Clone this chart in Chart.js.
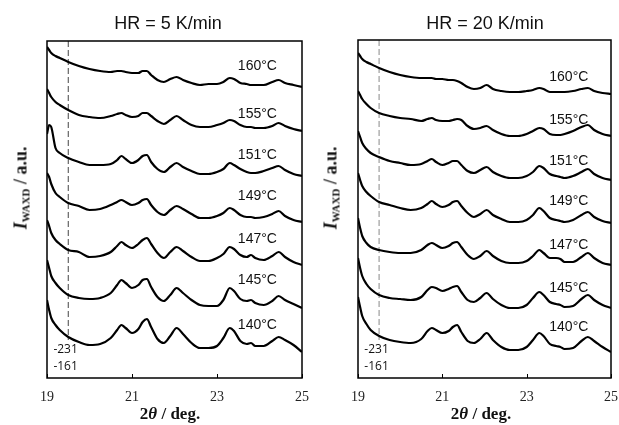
<!DOCTYPE html>
<html><head><meta charset="utf-8">
<script src="https://cdn.jsdelivr.net/npm/chart.js@4.4.1/dist/chart.umd.min.js"></script>
<style>
html,body{margin:0;padding:0;background:#fff;width:619px;height:425px;overflow:hidden;position:relative}
canvas{position:absolute;top:0}
#cL{left:0}
#cR{left:309px}
.t{position:absolute;transform:translate(-50%,-50%);white-space:nowrap;color:#111}
.title{font:18px "Liberation Sans",Arial,sans-serif}
.xl{font:bold 17px "Liberation Serif","Times New Roman",serif}
.yl{font:bold 18px "Liberation Serif","Times New Roman",serif;transform:translate(-50%,-50%) rotate(-90deg)}
.yl sub{font-size:11px;vertical-align:-3px}
</style></head><body>
<canvas id="cL" width="309" height="425"></canvas>
<canvas id="cR" width="310" height="425"></canvas>
<div class="t title" style="left:168px;top:23px">HR = 5 K/min</div>
<div class="t title" style="left:485px;top:23px">HR = 20 K/min</div>
<div class="t yl" style="left:21px;top:188px"><i>I</i><sub>WAXD</sub> / a.u.</div>
<div class="t yl" style="left:331px;top:188px"><i>I</i><sub>WAXD</sub> / a.u.</div>
<div class="t xl" style="left:170px;top:414px">2<i>θ</i> / deg.</div>
<div class="t xl" style="left:481px;top:414px">2<i>θ</i> / deg.</div>
<script>
// 2θ positions (deg) shared by every curve
const angles = [19.0,19.05,19.1,19.2,19.3,19.5,19.75,20.0,20.25,20.5,20.65,20.75,20.85,21.0,21.15,21.25,21.35,21.45,21.6,21.75,21.9,22.05,22.2,22.4,22.6,22.8,23.0,23.15,23.3,23.4,23.55,23.7,23.8,23.9,24.1,24.3,24.45,24.6,24.8,25.0];
const temps = ['160°C','155°C','151°C','149°C','147°C','145°C','140°C'];
const xTicks = [19,21,23,25];
const hklLabels = ['-231','-161'];
const markerAngle = 19.5;

// HR = 5 K/min (stacked intensities, a.u.)
const hr5_160 = [331,328,325,322,320,316,312,309,307,306,307,307,306,305,305,307,307,303,298,296,299,301,298,295,293,294,294,296,300,299,295,294,293,293,293,296,298,295,293,291];
const hr5_155 = [289,285,281,276,273,268,263,261,260,262,264,265,263,261,262,265,265,262,257,254,258,262,258,253,251,251,253,255,258,257,253,251,251,250,250,252,255,252,249,247];
const hr5_151 = [244,253,251,230,225,220,216,213,213,214,218,222,219,215,218,222,223,216,209,206,211,215,211,207,204,204,206,209,215,213,209,206,205,205,207,210,212,208,204,202];
const hr5_149 = [205,201,194,185,181,175,172,168,169,173,176,178,176,173,175,178,179,173,166,163,168,172,169,164,160,160,162,165,170,168,163,161,161,160,161,164,167,162,158,156];
const hr5_147 = [158,152,145,138,134,128,126,121,122,126,132,136,133,130,134,138,140,134,125,120,126,131,127,121,117,117,120,124,131,129,123,121,123,120,118,122,126,121,116,113];
const hr5_145 = [118,110,102,95,90,83,80,79,80,85,93,98,95,90,93,98,99,91,81,77,83,90,85,78,73,72,72,78,90,87,79,77,78,75,73,77,82,78,74,70];
const hr5_140 = [78,68,60,53,48,41,36,33,34,40,48,53,50,45,49,56,59,51,39,35,42,50,44,35,30,30,32,40,50,47,37,34,35,32,32,37,41,38,33,26];

// HR = 20 K/min
const hr20_160 = [325,322,319,316,314,310,306,303,301,300,300,300,299,299,298,298,297,295,291,289,290,293,289,287,286,286,287,288,290,289,286,286,286,286,287,289,290,287,285,284];
const hr20_155 = [287,283,279,274,270,265,262,260,259,257,259,260,258,257,257,258,259,258,252,249,250,252,248,244,242,242,244,247,250,249,244,243,243,244,247,251,253,248,244,242];
const hr20_151 = [247,241,235,229,225,221,217,215,213,214,217,219,216,213,215,217,217,213,207,205,208,211,206,202,200,200,202,206,212,210,204,202,201,200,202,206,209,204,200,198];
const hr20_149 = [205,198,192,186,182,176,173,170,168,170,174,177,174,171,173,176,177,172,165,161,164,168,163,159,156,156,158,163,170,167,160,158,157,156,158,163,166,161,157,155];
const hr20_147 = [160,150,142,135,131,128,126,125,125,128,133,135,133,130,132,135,136,131,123,119,122,127,122,117,115,115,117,122,128,125,120,120,119,116,116,121,125,120,115,113];
const hr20_145 = [120,110,102,94,89,83,80,79,78,81,88,91,90,87,89,91,92,86,78,76,80,85,79,73,70,70,73,80,86,83,76,74,73,71,72,79,83,78,73,70];
const hr20_140 = [81,71,62,54,48,42,38,36,35,39,47,50,48,45,47,51,53,46,37,35,39,45,38,31,28,28,31,38,45,42,34,32,31,29,30,37,41,37,31,26];

const decor = {
  id: 'decor',
  afterDatasetsDraw(chart, args, o) {
    const {ctx, chartArea: a, scales: {x, y}} = chart;
    ctx.save();
    ctx.strokeStyle = '#000';
    ctx.lineWidth = 1.5;
    ctx.strokeRect(a.left, a.top, a.right - a.left, a.bottom - a.top);
    ctx.lineWidth = 1;
    x.ticks.forEach(t => {
      const px = Math.round(x.getPixelForValue(t.value)) + 0.5;
      ctx.beginPath(); ctx.moveTo(px, a.bottom); ctx.lineTo(px, a.bottom - 4); ctx.stroke();
    });
    ctx.fillStyle = '#111';
    ctx.font = '14px "Liberation Sans", Arial, sans-serif';
    ctx.textAlign = 'center'; ctx.textBaseline = 'middle';
    temps.forEach((s, i) => ctx.fillText(s, x.getPixelForValue(o.labelX), y.getPixelForValue(o.labelY[i])));
    ctx.font = '12px "Open Sans", "Liberation Sans", sans-serif';
    ctx.textAlign = 'left';
    hklLabels.forEach((s, i) => ctx.fillText(s, x.getPixelForValue(o.hklX), y.getPixelForValue(o.hklY[i])));
    ctx.restore();
  }
};

function makeChart(id, series, pad, yMax, dashColor, labelX, labelY) {
  const datasets = series.map(arr => ({
    data: angles.map((a, i) => ({x: a, y: arr[i]})),
    borderColor: '#000', borderWidth: 2.2, pointRadius: 0,
    cubicInterpolationMode: 'monotone', fill: false
  }));
  datasets.push({
    data: [{x: markerAngle, y: yMax}, {x: markerAngle, y: 38}],
    borderColor: dashColor, borderWidth: 1, borderDash: [6, 3], pointRadius: 0, fill: false
  });
  return new Chart(document.getElementById(id), {
    type: 'line',
    data: {datasets},
    options: {
      responsive: false, animation: false, devicePixelRatio: 1,
      layout: {padding: pad},
      plugins: {legend: {display: false}, tooltip: {enabled: false},
        decor: {labelX, labelY, hklX: 19.15, hklY: [28, 11]}},
      scales: {
        x: {type: 'linear', min: 19, max: 25,
            afterBuildTicks: s => { s.ticks = xTicks.map(v => ({value: v})); },
            afterFit: s => { s.height = 26; s.paddingLeft = 0; s.paddingRight = 0; },
            ticks: {color: '#222', padding: 11, font: {family: '"Liberation Serif", "Times New Roman", serif', size: 14}},
            grid: {display: false, drawTicks: false}, border: {display: false}},
        y: {display: false, min: 0, max: yMax}
      }
    },
    plugins: [decor]
  });
}

makeChart('cL', [hr5_160, hr5_155, hr5_151, hr5_149, hr5_147, hr5_145, hr5_140],
  {left: 47, right: 7, top: 41, bottom: 21}, 337, '#444', 23.95, [312, 264, 223, 182, 139, 98, 53]);
makeChart('cR', [hr20_160, hr20_155, hr20_151, hr20_149, hr20_147, hr20_145, hr20_140],
  {left: 49, right: 8, top: 40, bottom: 21}, 338, '#888', 24.0, [301, 258, 217, 177, 133, 90, 51]);
</script>
</body></html>
